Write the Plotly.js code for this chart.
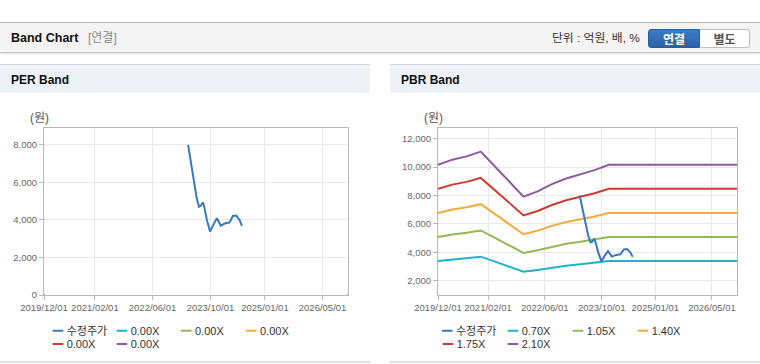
<!DOCTYPE html>
<html>
<head>
<meta charset="utf-8">
<script src="https://cdn.plot.ly/plotly-3.0.1.min.js"></script>
<style>
  html, body { margin:0; padding:0; }
  body { width:760px; height:364px; position:relative; overflow:hidden; background:#fff;
         font-family:"Liberation Sans","Noto Sans CJK KR",Arial,sans-serif; }
  .abs { position:absolute; }
  #topbar { left:0; top:22px; width:760px; height:29px; background:#f4f4f4;
            border-top:1px solid #b9b9b9; border-bottom:1px solid #c4c4c4;
            box-shadow:0 1px 2px rgba(0,0,0,0.12); }
  .ttl { font-weight:bold; color:#111; white-space:nowrap; }
  .phead { top:64px; height:28px; background:#eef2f7; border-top:1px solid #d6d6d6; }
  .pfoot { top:361px; height:0; border-top:2px solid #e2e2e2; }
  .btn { top:6px; height:18px; line-height:18px; font-size:12px; font-weight:bold; text-align:center;
         font-family:"Noto Sans CJK KR",sans-serif; }
  .chart { top:93px; width:370px; height:268px; }
</style>
</head>
<body>
<div id="topbar" class="abs">
  <span class="abs ttl" style="left:11px;top:7px;font-size:12.5px;line-height:16px;">Band Chart</span>
  <span class="abs" style="left:88px;top:7px;font-size:12px;line-height:16px;color:#8a8a8a;">[연결]</span>
  <span class="abs" style="left:552px;top:7px;font-size:11.8px;line-height:16px;color:#333;white-space:nowrap;">단위 : 억원, 배, %</span>
  <div class="abs btn" style="left:648px;width:52px;background:linear-gradient(#3b7cc6,#2a63a8);color:#fff;border:1px solid #28609f;border-radius:3px 0 0 3px;box-sizing:border-box;height:19px;">연결</div>
  <div class="abs btn" style="left:700px;width:50px;background:#fff;color:#555;border:1px solid #bdbdbd;border-left:none;border-radius:0 3px 3px 0;box-sizing:border-box;height:19px;">별도</div>
</div>

<div class="abs phead" style="left:0;width:370px;">
  <span class="abs ttl" style="left:11px;top:7px;font-size:12px;line-height:16px;">PER Band</span>
</div>
<div class="abs phead" style="left:390px;width:370px;">
  <span class="abs ttl" style="left:11px;top:7px;font-size:12px;line-height:16px;">PBR Band</span>
</div>

<div id="per" class="abs chart" style="left:0;"></div>
<div id="pbr" class="abs chart" style="left:390px;"></div>

<div class="abs pfoot" style="left:0;width:370px;"></div>
<div class="abs pfoot" style="left:390px;width:370px;"></div>

<script>
// ---------------- data ----------------
const xTickVals = ['2019-12-01','2021-02-01','2022-06-01','2023-10-01','2025-01-01','2026-05-01'];
const xTickText = ['2019/12/01','2021/02/01','2022/06/01','2023/10/01','2025/01/01','2026/05/01'];

const priceName = '수정주가';
const priceDates = ['2023-03-27','2023-04-14','2023-05-10','2023-06-08','2023-06-27','2023-07-12',
                    '2023-07-28','2023-08-08','2023-09-01','2023-09-28','2023-10-26','2023-11-24',
                    '2023-12-27','2024-02-02','2024-03-09','2024-04-07','2024-05-05','2024-06-02','2024-06-22'];
const priceValues = [8000, 7250, 6200, 5150, 4700, 4750,
                     4930, 4760, 4000, 3380, 3750, 4090,
                     3700, 3820, 3860, 4210, 4230, 4000, 3680];

const bandDates = ['2019-12-01','2020-04-01','2020-08-01','2020-12-01','2021-06-01','2021-12-01',
                   '2022-04-01','2022-08-01','2022-12-01','2023-04-01','2023-08-01','2023-12-01','2026-12-01'];

// PER band (all multiples shown as 0.00X in the source)
const perLabels = ['0.00X','0.00X','0.00X','0.00X','0.00X'];
const perBand1 = [0,0,0,0,0,0,0,0,0,0,0,0,0];
const perBand2 = [0,0,0,0,0,0,0,0,0,0,0,0,0];
const perBand3 = [0,0,0,0,0,0,0,0,0,0,0,0,0];
const perBand4 = [0,0,0,0,0,0,0,0,0,0,0,0,0];
const perBand5 = [0,0,0,0,0,0,0,0,0,0,0,0,0];

// PBR band
const pbrLabels = ['0.70X','1.05X','1.40X','1.75X','2.10X'];
const pbr070 = [3388, 3507, 3584, 3696, 3171, 2639, 2765, 2933, 3066, 3164, 3262, 3388, 3388];
const pbr105 = [5082, 5261, 5376, 5544, 4757, 3959, 4148, 4400, 4599, 4746, 4893, 5082, 5082];
const pbr140 = [6776, 7014, 7168, 7392, 6342, 5278, 5530, 5866, 6132, 6328, 6524, 6776, 6776];
const pbr175 = [8470, 8768, 8960, 9240, 7928, 6598, 6913, 7333, 7665, 7910, 8155, 8470, 8470];
const pbr210 = [10164,10521,10752,11088, 9513, 7917, 8295, 8799, 9198, 9492, 9786,10164,10164];

// ---------------- styles ----------------
const priceColor = '#3a77c2';
const bandColors = ['#1fb2c6', '#93ba52', '#f4a93a', '#cf3a2c', '#8e5a9d'];
const fontFam = '"Liberation Sans", "Noto Sans CJK KR", Arial, sans-serif';

function makeChart(divId, labels, bandSeries, geo, yRange, yTicks) {
  const traces = [];
  bandSeries.forEach((ys, i) => {
    traces.push({
      type: 'scatter', mode: 'lines', x: bandDates, y: ys, name: labels[i],
      line: { color: bandColors[i], width: 2 },
      legend: 'legend' + (i + 2), legendrank: i + 2, hoverinfo: 'skip'
    });
  });
  traces.push({
    type: 'scatter', mode: 'lines', x: priceDates, y: priceValues, name: priceName,
    line: { color: priceColor, width: 2 },
    legend: 'legend', legendrank: 1, hoverinfo: 'skip'
  });

  const textXs = geo.textXs;
  const rows = geo.rows;
  const layout = {
    width: 370, height: 268,
    margin: { l: geo.l, r: geo.r, t: 35, b: 66, autoexpand: false },
    paper_bgcolor: 'rgba(0,0,0,0)', plot_bgcolor: '#fff',
    showlegend: true, hovermode: false,
    font: { family: fontFam, size: 11, color: '#333' },
    xaxis: {
      type: 'date', range: ['2019-12-01', '2026-12-01'],
      tickmode: 'array', tickvals: xTickVals, ticktext: xTickText,
      showgrid: true, gridcolor: '#e8e8e8', gridwidth: 1,
      showline: true, linecolor: '#b8b8b8', linewidth: 1, mirror: true,
      ticks: 'outside', ticklen: 4, tickcolor: '#b8b8b8',
      tickfont: { family: fontFam, size: 9.5, color: '#666' }, zeroline: false, fixedrange: true
    },
    yaxis: {
      range: yRange, tickmode: 'array', tickvals: yTicks, tickformat: ',d',
      showgrid: true, gridcolor: '#e8e8e8', gridwidth: 1,
      showline: true, linecolor: '#b8b8b8', linewidth: 1, mirror: true,
      ticks: 'outside', ticklen: 4, tickcolor: '#b8b8b8',
      tickfont: { family: fontFam, size: 9.5, color: '#666' }, zeroline: false, fixedrange: true
    },
    annotations: [{
      xref: 'paper', yref: 'paper', x: (geo.unitX - geo.x0) / geo.w, y: (295 - 118) / 167,
      xanchor: 'center', yanchor: 'middle', showarrow: false,
      text: '(원)', font: { family: fontFam, size: 12, color: '#555' }
    }],
    shapes: geo.maskBottom ? [{
      type: 'rect', layer: 'above', xref: 'paper', yref: 'y',
      x0: 0.002, x1: 0.998, y0: 0, y1: yRange[1] * 0.0075,
      fillcolor: '#ffffff', line: { width: 0 }
    }] : []
  };
  const order = ['legend', 'legend2', 'legend3', 'legend4', 'legend5', 'legend6'];
  order.forEach((lg, k) => {
    layout[lg] = {
      x: (textXs[k] - 40 - geo.x0) / geo.w,
      y: (295 - rows[k]) / 167,
      xanchor: 'left', yanchor: 'middle', orientation: 'h',
      bgcolor: 'rgba(0,0,0,0)', borderwidth: 0, itemwidth: 30,
      font: { family: fontFam, size: 11, color: '#333' },
      itemclick: false, itemdoubleclick: false
    };
  });
  return Plotly.newPlot(divId, traces, layout, { displayModeBar: false, staticPlot: true, responsive: false })
    .then(() => {
      document.querySelectorAll('#' + divId + ' .legendlines path').forEach(p => {
        p.setAttribute('d', 'M26,0h10.5');
      });
    });
}

makeChart('per', perLabels, [perBand1, perBand2, perBand3, perBand4, perBand5],
  { l: 44, r: 22, x0: 44, w: 304, unitX: 39.5, maskBottom: true,
    textXs: [66.7, 130.7, 195, 260, 66.7, 130.7],
    rows: [330.7, 330.7, 330.7, 330.7, 344, 344] },
  [0, 8900], [0, 2000, 4000, 6000, 8000]);

makeChart('pbr', pbrLabels, [pbr070, pbr105, pbr140, pbr175, pbr210],
  { l: 48, r: 23, x0: 438, w: 299, unitX: 433.5, maskBottom: false,
    textXs: [456, 521.7, 586.7, 651.7, 456.7, 521.7],
    rows: [330.7, 330.7, 330.7, 330.7, 344, 344] },
  [1000, 12750], [2000, 4000, 6000, 8000, 10000, 12000]);
</script>
</body>
</html>
